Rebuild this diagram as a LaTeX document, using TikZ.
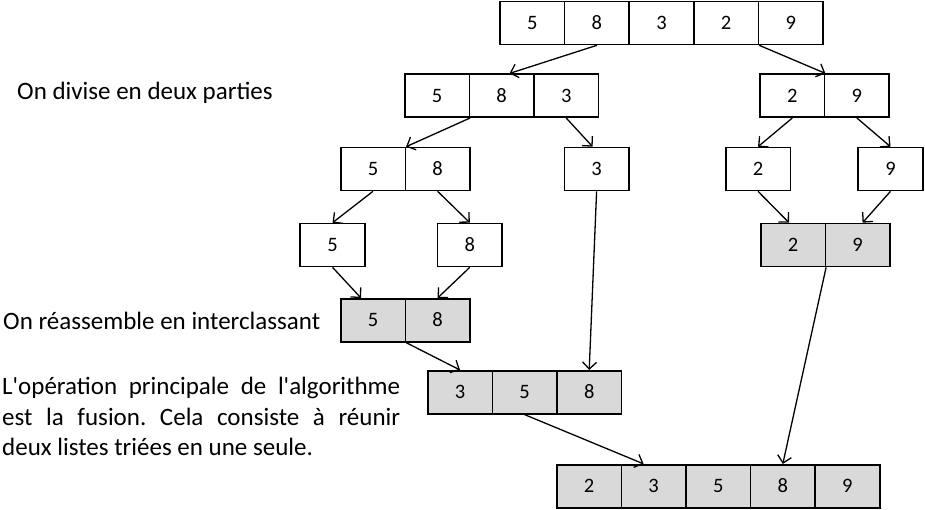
\documentclass[tikz,border=0pt]{standalone}
\usepackage{fontspec}
\setmainfont{Carlito}[Ligatures=TeXOff]
\usepackage{xcolor}
\usetikzlibrary{arrows.meta,calc}
\definecolor{mergegray}{RGB}{217,217,217}
\frenchspacing

\begin{document}
\begin{tikzpicture}[line join=miter,
                cellnode/.style={shape=rectangle, draw=black, line width=1.6pt, minimum width=64.6pt, minimum height=43pt, inner sep=0pt, text height=13pt, text depth=0pt, font=\fontsize{20.5}{24}\selectfont},
                graycellnode/.style={cellnode, fill=mergegray},
                sortarrow/.style={draw=black, line width=1.3pt, -{Straight Barb[length=7pt, width=14pt, line width=1.3pt]}},
                textnode/.style={inner sep=0pt, font=\fontsize{25}{30.5}\selectfont}]
            \useasboundingbox (0pt, 0pt) rectangle (925pt, -509pt);
            % Splitting
        \foreach \v [count=\i] in {5, 8, 3, 2, 9} {
            \node[cellnode] (a\i) at ({500pt+(\i-0.5)*64.6pt}, -23pt) {\v};
        }
        \foreach \v [count=\i] in {5, 8, 3} {
            \node[cellnode] (b\i) at ({404.7pt+(\i-0.5)*64.6pt}, -95.7pt) {\v};
        }
        \foreach \v [count=\i] in {2, 9} {
            \node[cellnode] (c\i) at ({760pt+(\i-0.5)*64.6pt}, -95.7pt) {\v};
        }
        \foreach \v [count=\i] in {5, 8} {
            \node[cellnode] (d\i) at ({340.7pt+(\i-0.5)*64.6pt}, -169pt) {\v};
        }
        \node[cellnode] (e1) at (596.6pt, -169pt) {3};
        \node[cellnode] (f1) at (758pt, -169pt) {2};
        \node[cellnode] (g1) at (890.5pt, -169pt) {9};
        \node[cellnode] (h1) at (332.5pt, -245pt) {5};
        \node[cellnode] (i1) at (469.8pt, -245pt) {8};
            % Merging
        \foreach \v [count=\i] in {2, 9} {
            \node[graycellnode] (l\i) at ({760.7pt+(\i-0.5)*64.6pt}, -245pt) {\v};
        }
        \foreach \v [count=\i] in {5, 8} {
            \node[graycellnode] (j\i) at ({340.7pt+(\i-0.5)*64.6pt}, -320.3pt) {\v};
        }
        \foreach \v [count=\i] in {3, 5, 8} {
            \node[graycellnode] (k\i) at ({427.7pt+(\i-0.5)*64.6pt}, -392.3pt) {\v};
        }
        \foreach \v [count=\i] in {2, 3, 5, 8, 9} {
            \node[graycellnode] (m\i) at ({556.7pt+(\i-0.5)*64.6pt}, -486.2pt) {\v};
        }
        % Arrows
        \draw[sortarrow] (a2.south) -- ($(b2.north)+(8pt, 0pt)$);
        \draw[sortarrow] (a4.south east) -- (c1.north east);
        \draw[sortarrow] (b1.south east) -- (d1.north east);
        \draw[sortarrow] (b3.south) -- ($(e1.north)+(-4pt, 0pt)$);
        \draw[sortarrow] (c1.south) -- (f1.north);
        \draw[sortarrow] (c2.south) -- (g1.north);
        \draw[sortarrow] (d1.south) -- (h1.north);
        \draw[sortarrow] (d2.south) -- (i1.north);
        \draw[sortarrow] (h1.south) -- ($(j1.north)+(-12pt, 0pt)$);
        \draw[sortarrow] (i1.south) -- (j2.north);
        \draw[sortarrow] (f1.south) -- ($(l1.north)+(-4pt, 0pt)$);
        \draw[sortarrow] (g1.south) -- ($(l2.north)+(5pt, 0pt)$);
        \draw[sortarrow] (j1.south east) -- (k1.north);
        \draw[sortarrow] (e1.south) -- (k3.north);
        \draw[sortarrow] (k2.south) -- ($(m2.north)+(-10pt, 0pt)$);
        \draw[sortarrow] (l1.south east) -- (m4.north);

        % Captions
        \node[textnode, anchor=base west] (divise) at (17pt, -99.3pt) {On divise en deux parties};
        \node[textnode, anchor=base west] (reassemble) at (3pt, -329.3pt) {On réassemble en interclassant};
        \node[textnode, anchor=north west, text width=398pt, align=justify] (fusion) at (2pt, -377pt)
            {L'opération principale de l'algorithme\linebreak est la fusion. Cela consiste à réunir\linebreak deux listes triées en une seule.};
            \end{tikzpicture}
\end{document}
